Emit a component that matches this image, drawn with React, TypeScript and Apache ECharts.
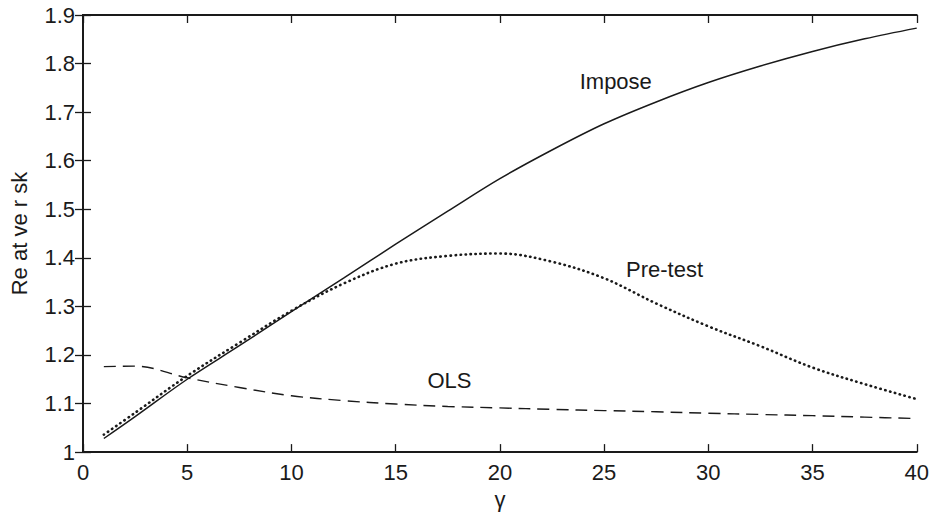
import React, { useEffect, useRef } from "react";
import * as echarts from "echarts";

const gamma = [1, 2.5, 5, 7.5, 10, 12.5, 15, 17.5, 20, 22.5, 25, 27.5, 30, 32.5, 35, 37.5, 40];
const imposeRisk = [1.028, 1.073, 1.150, 1.219, 1.289, 1.358, 1.428, 1.496, 1.563, 1.622, 1.676, 1.721, 1.761, 1.795, 1.825, 1.851, 1.873];
const pretestRisk = [1.036, 1.081, 1.157, 1.225, 1.291, 1.347, 1.388, 1.404, 1.409, 1.392, 1.358, 1.306, 1.259, 1.218, 1.174, 1.140, 1.109];
const olsRisk = [1.176, 1.177, 1.153, 1.133, 1.116, 1.106, 1.099, 1.094, 1.091, 1.088, 1.0855, 1.083, 1.080, 1.0775, 1.075, 1.072, 1.069];

const curveLabels = ["Impose", "Pre-test", "OLS"];
const labelGamma = [25.56, 27.9, 17.58];
const labelRisk = [1.764, 1.377, 1.147];

const FONT = "Liberation Sans, Arial, Helvetica, sans-serif";
const INK = "#1a1a1a";

function pairs(xs: number[], ys: number[]) {
  return xs.map((x, i) => [x, ys[i]]);
}

function labelPoint(i: number) {
  return {
    markPoint: {
      symbol: "circle",
      symbolSize: 0,
      silent: true,
      label: {
        show: true,
        position: "inside",
        formatter: curveLabels[i],
        fontFamily: FONT,
        fontSize: 22,
        color: INK,
      },
      data: [{ coord: [labelGamma[i], labelRisk[i]] }],
    },
  };
}

export default function App() {
  const ref = useRef<HTMLDivElement>(null);

  useEffect(() => {
    if (!ref.current) return;
    const chart = echarts.init(ref.current, null, { renderer: "svg" });
    const axisLine = { show: true, lineStyle: { color: INK, width: 2 } };
    const axisTick = { show: true, inside: true, length: 8, lineStyle: { color: INK, width: 1.3 } };
    chart.setOption({
      animation: false,
      backgroundColor: "#ffffff",
      grid: { left: 79, right: 11, top: 15, bottom: 58, containLabel: false },
      xAxis: [
        {
          type: "value",
          min: 0,
          max: 40,
          interval: 5,
          name: "γ",
          nameLocation: "middle",
          nameGap: 29,
          nameTextStyle: { fontFamily: FONT, fontSize: 22, color: INK },
          axisLine,
          axisTick,
          axisLabel: { fontFamily: FONT, fontSize: 22, color: INK, margin: 9 },
          splitLine: { show: false },
        },
        {
          type: "value",
          position: "top",
          min: 0,
          max: 40,
          interval: 5,
          axisLine,
          axisTick,
          axisLabel: { show: false },
          splitLine: { show: false },
        },
      ],
      yAxis: [
        {
          type: "value",
          min: 1,
          max: 1.9,
          interval: 0.1,
          name: "Re at ve r sk",
          nameLocation: "middle",
          nameGap: 53,
          nameTextStyle: { fontFamily: FONT, fontSize: 22, color: INK },
          axisLine,
          axisTick,
          axisLabel: {
            fontFamily: FONT,
            fontSize: 22,
            color: INK,
            margin: 8,
            formatter: (v: number) => String(Math.round(v * 10) / 10),
          },
          splitLine: { show: false },
        },
        {
          type: "value",
          position: "right",
          min: 1,
          max: 1.9,
          interval: 0.1,
          axisLine,
          axisTick,
          axisLabel: { show: false },
          splitLine: { show: false },
        },
      ],
      series: [
        {
          name: "Impose",
          type: "line",
          smooth: 0.35,
          showSymbol: false,
          data: pairs(gamma, imposeRisk),
          lineStyle: { color: INK, width: 1.5, type: "solid" },
          ...labelPoint(0),
        },
        {
          name: "Pre-test",
          type: "line",
          smooth: 0.35,
          showSymbol: false,
          data: pairs(gamma, pretestRisk),
          lineStyle: { color: INK, width: 2.6, type: [0.4, 4.6], cap: "round" },
          ...labelPoint(1),
        },
        {
          name: "OLS",
          type: "line",
          smooth: 0.35,
          showSymbol: false,
          data: pairs(gamma, olsRisk),
          lineStyle: { color: INK, width: 1.4, type: [12, 7] },
          ...labelPoint(2),
        },
      ],
    });
    return () => chart.dispose();
  }, []);

  return (
    <div
      ref={ref}
      style={{ position: "absolute", left: 0, top: 0, width: 932, height: 515 }}
    />
  );
}
